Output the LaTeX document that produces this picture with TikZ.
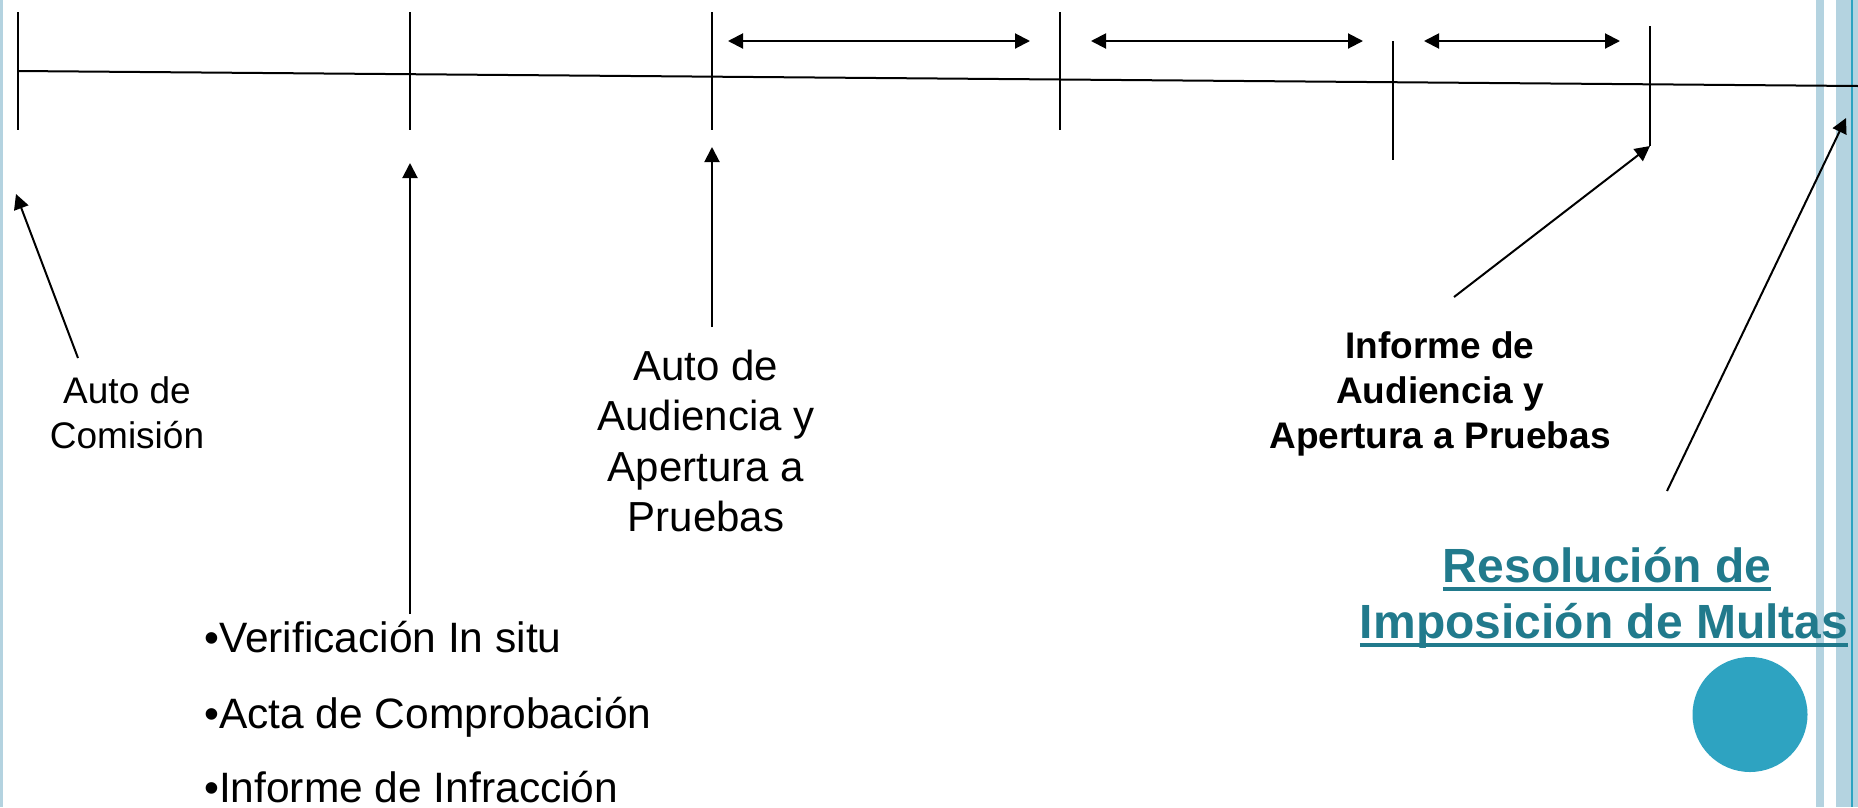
\documentclass[tikz,border=0pt]{standalone}
\usepackage{fontspec}
\setmainfont{Liberation Sans}
\usetikzlibrary{arrows.meta}
\definecolor{stripe}{HTML}{B4D3E0}
\definecolor{accent}{HTML}{2EA3C1}
\definecolor{titleteal}{HTML}{217A8C}
\begin{document}
\begin{tikzpicture}[x=1pt,y=-1pt,
  tickline/.style={line width=2pt},
  tickthin/.style={line width=1.5pt},
  ptr/.style={line width=2pt,-{Triangle[length=15pt,width=15pt]}},
  spanarrow/.style={line width=2pt,{Triangle[length=15pt,width=15pt]}-{Triangle[length=15pt,width=15pt]}},
  lblsmall/.style={inner sep=0pt,anchor=base,font=\fontsize{37}{45}\selectfont},
  lblbig/.style={inner sep=0pt,anchor=base,font=\fontsize{42}{50}\selectfont},
  lblbold/.style={inner sep=0pt,anchor=base,font=\fontsize{37}{45}\selectfont\bfseries},
  lbltitle/.style={inner sep=0pt,anchor=base,text=titleteal,font=\fontsize{48}{58}\selectfont\bfseries},
  lblbullet/.style={inner sep=0pt,anchor=base west,font=\fontsize{42.5}{50}\selectfont},
  uline/.style={titleteal,line width=4pt}
]
\useasboundingbox (0,0) rectangle (1858,807);
% side stripes
\fill[stripe] (0,0) rectangle (3,807);
\fill[stripe] (1816,0) rectangle (1824,807);
\fill[stripe] (1836,0) rectangle (1858,807);
\fill[accent] (1851,0) rectangle (1853,807);

% main time line
\coordinate (L0) at (18,71);
\coordinate (L1) at (1858,86);
\draw[line width=2pt] (L0) -- (L1);

% ticks
\coordinate (t1a) at (18,12);   \coordinate (t1b) at (18,130);
\coordinate (t2a) at (410,12);  \coordinate (t2b) at (410,130);
\coordinate (t3a) at (712,12);  \coordinate (t3b) at (712,130);
\coordinate (t4a) at (1060,12); \coordinate (t4b) at (1060,130);
\coordinate (t5a) at (1393,41); \coordinate (t5b) at (1393,160);
\coordinate (t6a) at (1650,26); \coordinate (t6b) at (1650,146);
\draw[tickline] (t1a) -- (t1b);
\draw[tickline] (t2a) -- (t2b);
\draw[tickline] (t3a) -- (t3b);
\draw[tickthin] (t4a) -- (t4b);
\draw[tickthin] (t5a) -- (t5b);
\draw[tickthin] (t6a) -- (t6b);

% span arrows
\coordinate (sA1) at (728,41);  \coordinate (sA2) at (1030,41);
\coordinate (sB1) at (1091,41); \coordinate (sB2) at (1363,41);
\coordinate (sC1) at (1424,41); \coordinate (sC2) at (1620,41);
\draw[spanarrow] (sA1) -- (sA2);
\draw[spanarrow] (sB1) -- (sB2);
\draw[spanarrow] (sC1) -- (sC2);

% pointer arrows
\coordinate (pc1) at (78,358);   \coordinate (pc2) at (16,194);
\coordinate (pv1) at (410,614);  \coordinate (pv2) at (410,163);
\coordinate (pa1) at (712,327);  \coordinate (pa2) at (712,147);
\coordinate (pi1) at (1454,297); \coordinate (pi2) at (1650,146);
\coordinate (pr1) at (1667,491); \coordinate (pr2) at (1846,118);
\draw[ptr] (pc1) -- (pc2);
\draw[ptr] (pv1) -- (pv2);
\draw[ptr] (pa1) -- (pa2);
\draw[ptr] (pi1) -- (pi2);
\draw[ptr] (pr1) -- (pr2);

% labels
\node[lblsmall] (c1) at (127,403) {Auto de};
\node[lblsmall] (c2) at (127,448) {Comisión};

\node[lblbig] (a1) at (706,380) {Auto de};
\node[lblbig] (a2) at (706,430) {Audiencia y};
\node[lblbig] (a3) at (706,481) {Apertura a};
\node[lblbig] (a4) at (706,531) {Pruebas};

\node[lblbold] (i1) at (1440,358) {Informe de};
\node[lblbold] (i2) at (1440,403) {Audiencia y};
\node[lblbold] (i3) at (1440,448) {Apertura a Pruebas};

\node[lblbullet] (b1) at (204,652) {•Verificación In situ};
\node[lblbullet] (b2) at (204,728) {•Acta de Comprobación};
\node[lblbullet] (b3) at (204,802) {•Informe de Infracción};

\node[lbltitle] (r1) at (1607,582) {Resolución de};
\node[lbltitle] (r2) at (1604,638) {Imposición de Multas};
\draw[uline] ([yshift=-7pt]r1.base west) -- ([yshift=-7pt]r1.base east);
\draw[uline] ([yshift=-7pt]r2.base west) -- ([yshift=-7pt]r2.base east);

% decorative circle
\fill[accent] (1750,714.5) circle[radius=57.5pt];
\end{tikzpicture}
\end{document}
